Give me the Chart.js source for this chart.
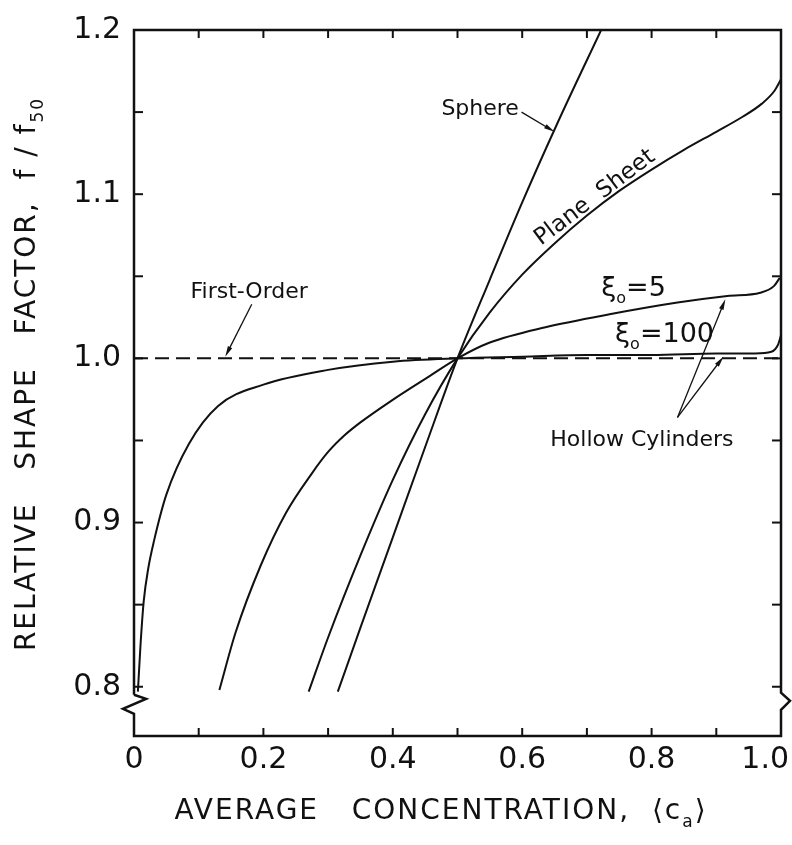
<!DOCTYPE html>
<html>
<head>
<meta charset="utf-8">
<title>Relative shape factor vs average concentration</title>
<script src="https://cdn.jsdelivr.net/npm/chart.js@4.4.1/dist/chart.umd.min.js"></script>
<style>
  html, body { margin: 0; padding: 0; background: #fff; }
  canvas { display: block; }
</style>
</head>
<body>
<canvas id="shapeChart" width="792" height="845"></canvas>
<script>
// curves (x = <c_a>, y = f/f50)
const sphereX = [0.315, 0.35, 0.40, 0.45, 0.50, 0.55, 0.60, 0.653, 0.722];
const sphereY = [0.797, 0.836, 0.891, 0.946, 1.000, 1.048, 1.095, 1.142, 1.200];

const planeX = [0.27, 0.30, 0.35, 0.40, 0.45, 0.50, 0.55, 0.60, 0.65, 0.70, 0.75, 0.80, 0.85, 0.90, 0.94, 0.97, 0.99, 1.0];
const planeY = [0.797, 0.830, 0.880, 0.926, 0.966, 1.000, 1.028, 1.051, 1.070, 1.087, 1.102, 1.115, 1.127, 1.138, 1.147, 1.155, 1.163, 1.170];

const cyl5X = [0.132, 0.157, 0.196, 0.235, 0.275, 0.300, 0.325, 0.350, 0.397, 0.458, 0.500, 0.549, 0.636, 0.737, 0.840, 0.917, 0.968, 0.989, 0.998];
const cyl5Y = [0.798, 0.833, 0.874, 0.906, 0.930, 0.943, 0.953, 0.961, 0.974, 0.9895, 1.000, 1.0095, 1.019, 1.027, 1.034, 1.038, 1.040, 1.044, 1.049];

const cyl100X = [0.006, 0.010, 0.015, 0.022, 0.031, 0.050, 0.085, 0.130, 0.200, 0.300, 0.400, 0.500, 0.600, 0.700, 0.800, 0.900, 0.960, 0.985, 0.995, 1.000];
const cyl100Y = [0.797, 0.825, 0.852, 0.872, 0.889, 0.917, 0.948, 0.971, 0.984, 0.993, 0.998, 1.000, 1.001, 1.002, 1.002, 1.003, 1.003, 1.004, 1.008, 1.014];

const firstOrderX = [0, 1.0];
const firstOrderY = [1.0, 1.0];

const xTicks = [0, 0.2, 0.4, 0.6, 0.8, 1.0];
const xTickLabels = ['0', '0.2', '0.4', '0.6', '0.8', '1.0'];
const xMinorTicks = [0.1, 0.3, 0.5, 0.7, 0.9];
const yTicks = [0.8, 0.9, 1.0, 1.1, 1.2];
const yTickLabels = ['0.8', '0.9', '1.0', '1.1', '1.2'];
const yMinorTicks = [0.85, 0.95, 1.05, 1.15];

const INK = '#111';
const FACE = '"DejaVu Sans", "Noto Sans", sans-serif';
const Y_BREAK = 0.789;

// text labels on the plot, placed in data units; parts with sub are subscripts
const notes = [
    { parts: ['Sphere'], x: 0.535, y: 1.152, size: 22 },
    { parts: ['Plane  Sheet'], x: 0.718, y: 1.095, size: 23, rot: -37, base: 'alphabetic' },
    { parts: ['ξ', { sub: 'o' }, '=5'], x: 0.772, y: 1.042, size: 27 },
    { parts: ['ξ', { sub: 'o' }, '=100'], x: 0.820, y: 1.014, size: 27 },
    { parts: ['Hollow Cylinders'], x: 0.785, y: 0.950, size: 22 },
    { parts: ['First-Order'], x: 0.178, y: 1.040, size: 22 },
];
const arrows = [
    { from: [0.599, 1.150], to: [0.650, 1.138] },
    { from: [0.840, 0.964], to: [0.914, 1.036] },
    { from: [0.840, 0.964], to: [0.911, 1.001] },
    { from: [0.182, 1.033], to: [0.141, 1.001] },
];

const toPoints = (xs, ys) => xs.map((x, i) => ({ x, y: ys[i] }));

function drawRich(ctx, parts, x, y, size, spacing) {
    const subSize = Math.round(size * 0.6);
    ctx.letterSpacing = (spacing || 0) + 'px';
    const widths = parts.map(p => {
        ctx.font = `${typeof p === 'string' ? size : subSize}px ${FACE}`;
        return ctx.measureText(typeof p === 'string' ? p : p.sub).width;
    });
    let cx = x - widths.reduce((a, b) => a + b, 0) / 2;
    ctx.textAlign = 'left';
    parts.forEach((p, i) => {
        if (typeof p === 'string') {
            ctx.font = `${size}px ${FACE}`;
            ctx.fillText(p, cx, y);
        } else {
            ctx.font = `${subSize}px ${FACE}`;
            ctx.fillText(p.sub, cx, y + size * 0.36);
        }
        cx += widths[i];
    });
    ctx.letterSpacing = '0px';
}

const frameAndText = {
    id: 'frameAndText',
    afterDatasetsDraw(chart) {
        const { ctx, chartArea: a, scales: { x, y } } = chart;
        const seg = (x1, y1, x2, y2) => { ctx.beginPath(); ctx.moveTo(x1, y1); ctx.lineTo(x2, y2); ctx.stroke(); };
        ctx.save();
        ctx.strokeStyle = INK;
        ctx.fillStyle = INK;
        ctx.lineJoin = 'miter';

        // frame with the broken axis marks near the bottom
        const yb = y.getPixelForValue(Y_BREAK);
        ctx.lineWidth = 2.5;
        ctx.beginPath();
        ctx.moveTo(a.left, yb - 10);
        ctx.lineTo(a.left, a.top);
        ctx.lineTo(a.right, a.top);
        ctx.lineTo(a.right, yb - 12);
        ctx.lineTo(a.right + 9, yb - 4);
        ctx.lineTo(a.right, yb + 5);
        ctx.lineTo(a.right, a.bottom);
        ctx.lineTo(a.left, a.bottom);
        ctx.lineTo(a.left, yb + 9);
        ctx.lineTo(a.left - 11, yb + 4);
        ctx.lineTo(a.left + 12, yb - 6);
        ctx.lineTo(a.left, yb - 10);
        ctx.stroke();

        // inward ticks
        ctx.lineWidth = 2;
        [...xTicks, ...xMinorTicks].forEach(v => {
            const px = x.getPixelForValue(v);
            seg(px, a.bottom, px, a.bottom - 8);
            seg(px, a.top, px, a.top + 8);
        });
        [...yTicks, ...yMinorTicks].forEach(v => {
            const py = y.getPixelForValue(v);
            seg(a.left, py, a.left + 9, py);
            seg(a.right, py, a.right - 9, py);
        });

        // tick labels
        ctx.font = `30px ${FACE}`;
        ctx.textBaseline = 'middle';
        ctx.textAlign = 'right';
        yTicks.forEach((v, i) => ctx.fillText(yTickLabels[i], a.left - 13, y.getPixelForValue(v)));
        ctx.textAlign = 'center';
        xTicks.forEach((v, i) => {
            const w = ctx.measureText(xTickLabels[i]).width;
            const px = Math.min(x.getPixelForValue(v), chart.width - 3 - w / 2);
            ctx.fillText(xTickLabels[i], px, a.bottom + 24);
        });

        // axis titles
        ctx.textBaseline = 'middle';
        drawRich(ctx, ['AVERAGE   CONCENTRATION,  ⟨c', { sub: 'a' }, '⟩'], 441, 812, 28, 2);
        ctx.save();
        ctx.translate(28, 374);
        ctx.rotate(-Math.PI / 2);
        drawRich(ctx, ['RELATIVE   SHAPE   FACTOR,  f / f', { sub: '50' }], 0, 0, 28, 2);
        ctx.restore();

        // curve labels
        notes.forEach(n => {
            ctx.save();
            ctx.translate(x.getPixelForValue(n.x), y.getPixelForValue(n.y));
            if (n.rot) ctx.rotate(n.rot * Math.PI / 180);
            ctx.textBaseline = n.base || 'middle';
            drawRich(ctx, n.parts, 0, 0, n.size, 0);
            ctx.restore();
        });

        // arrows
        ctx.lineWidth = 1.3;
        arrows.forEach(ar => {
            const x1 = x.getPixelForValue(ar.from[0]), y1 = y.getPixelForValue(ar.from[1]);
            const x2 = x.getPixelForValue(ar.to[0]), y2 = y.getPixelForValue(ar.to[1]);
            const ang = Math.atan2(y2 - y1, x2 - x1);
            seg(x1, y1, x2 - 6 * Math.cos(ang), y2 - 6 * Math.sin(ang));
            ctx.beginPath();
            ctx.moveTo(x2, y2);
            ctx.lineTo(x2 - 11 * Math.cos(ang - 0.22), y2 - 11 * Math.sin(ang - 0.22));
            ctx.lineTo(x2 - 11 * Math.cos(ang + 0.22), y2 - 11 * Math.sin(ang + 0.22));
            ctx.closePath();
            ctx.fill();
        });
        ctx.restore();
    }
};

const curve = (label, xs, ys, extra) => Object.assign({
    label,
    data: toPoints(xs, ys),
    showLine: true,
    borderColor: INK,
    borderWidth: 2,
    pointRadius: 0,
    cubicInterpolationMode: 'monotone',
    fill: false,
}, extra || {});

new Chart(document.getElementById('shapeChart'), {
    type: 'scatter',
    data: {
        datasets: [
            curve('First-Order', firstOrderX, firstOrderY, { borderDash: [14, 7] }),
            curve('Sphere', sphereX, sphereY),
            curve('Plane Sheet', planeX, planeY),
            curve('Hollow Cylinder ξo=5', cyl5X, cyl5Y),
            curve('Hollow Cylinder ξo=100', cyl100X, cyl100Y),
        ]
    },
    options: {
        responsive: false,
        animation: false,
        devicePixelRatio: 1,
        layout: { padding: { left: 134, right: 11, top: 30, bottom: 109 } },
        plugins: { legend: { display: false }, tooltip: { enabled: false } },
        scales: {
            x: { type: 'linear', min: 0, max: 1.0, display: false },
            y: { type: 'linear', min: 0.77, max: 1.2, display: false }
        }
    },
    plugins: [frameAndText]
});
</script>
</body>
</html>
